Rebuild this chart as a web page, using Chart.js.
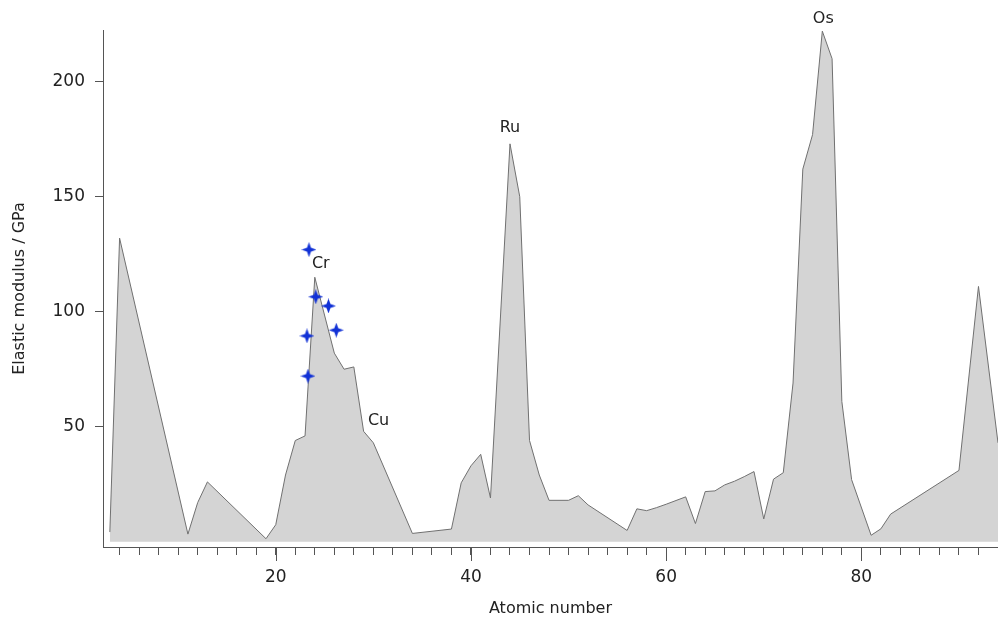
<!DOCTYPE html>
<html>
<head>
<meta charset="utf-8">
<script src="https://cdn.jsdelivr.net/npm/chart.js@4.4.1/dist/chart.umd.min.js"></script>
<style>
  body { margin: 0; background: #ffffff; }
  #chart { display: block; }
</style>
</head>
<body>
<canvas id="chart" width="998" height="621"></canvas>
<script>
// Elastic (shear) modulus vs atomic number

const atomicNumbers = [3, 4, 11, 12, 13, 19, 20, 21, 22, 23, 24, 26, 27, 28, 29, 30, 34, 38, 39, 40,
    41, 42, 44, 45, 46, 47, 48, 50, 51, 52, 56, 57, 58, 59, 60, 62, 63, 64, 65, 66,
    67, 68, 69, 70, 71, 72, 73, 74, 75, 76, 77, 78, 79, 81, 82, 83, 90, 92, 94];
const modulus = [4.2, 132, 3.3, 17, 26, 1.3, 7.4, 29, 44, 46, 115, 82, 75, 76, 48, 43, 3.6, 5.5, 25.6, 33,
    38, 19, 173, 150, 44, 29, 18, 18, 20, 16, 4.9, 14.3, 13.5, 14.8, 16.3, 19.5, 7.9, 21.8, 22.1, 24.7,
    26.3, 28.3, 30.5, 9.9, 27.2, 30, 69, 162, 177, 222, 210, 61, 27, 2.8, 5.6, 12, 31, 111, 43];

// extra blue markers near Cr
const markerZ = [23.4, 24.1, 25.4, 23.2, 26.2, 23.3];
const markerValue = [127, 106.5, 102.5, 89.5, 92, 72];

// element labels, anchored at a data point
const labelNames = ['Cr', 'Cu', 'Ru', 'Os'];
const labelZ = [24, 29, 44, 76];

const xTickValues = [];
for (let z = 4; z <= 94; z += 2) xTickValues.push(z);
const yTickValues = [50, 100, 150, 200];

const FONT = '"DejaVu Sans", sans-serif';
const AXIS_COLOR = '#555555';

function makeStar() {
    const c = document.createElement('canvas');
    c.width = 15; c.height = 15;
    const ctx = c.getContext('2d');
    ctx.fillStyle = '#1232d6';
    ctx.beginPath();
    for (let i = 0; i < 8; i++) {
        const r = i % 2 === 0 ? 7.5 : 2.8;
        const a = -Math.PI / 2 + i * Math.PI / 4;
        const px = 7.5 + r * Math.cos(a), py = 7.5 + r * Math.sin(a);
        if (i === 0) ctx.moveTo(px, py); else ctx.lineTo(px, py);
    }
    ctx.closePath();
    ctx.fill();
    return c;
}

const labelOffsets = { Cr: [6, -13], Cu: [15, -10], Ru: [0, -16], Os: [1, -12] };

const extrasPlugin = {
    id: 'extras',
    afterDraw(chart) {
        const ctx = chart.ctx;
        const xs = chart.scales.x, ys = chart.scales.y;
        // longer major ticks
        ctx.save();
        ctx.strokeStyle = AXIS_COLOR;
        ctx.lineWidth = 1;
        [20, 40, 60, 80].forEach(v => {
            const px = Math.round(xs.getPixelForValue(v)) + 0.5;
            ctx.beginPath();
            ctx.moveTo(px, ys.bottom);
            ctx.lineTo(px, ys.bottom + 14);
            ctx.stroke();
        });
        // element labels
        ctx.fillStyle = '#222222';
        ctx.font = '16px ' + FONT;
        ctx.textAlign = 'center';
        ctx.textBaseline = 'middle';
        labelNames.forEach((name, i) => {
            const idx = atomicNumbers.indexOf(labelZ[i]);
            const px = xs.getPixelForValue(labelZ[i]);
            const py = ys.getPixelForValue(modulus[idx]);
            const off = labelOffsets[name];
            ctx.fillText(name, px + off[0], py + off[1]);
        });
        ctx.restore();
    }
};

const ctx = document.getElementById('chart').getContext('2d');
new Chart(ctx, {
    type: 'scatter',
    data: {
        datasets: [
            {
                data: atomicNumbers.map((z, i) => ({ x: z, y: modulus[i] })),
                showLine: true,
                fill: 'origin',
                backgroundColor: '#d4d4d4',
                borderColor: '#707070',
                borderWidth: 1,
                pointRadius: 0,
                tension: 0,
                order: 2
            },
            {
                data: markerZ.map((z, i) => ({ x: z, y: markerValue[i] })),
                pointStyle: makeStar(),
                pointRadius: 7,
                order: 1
            }
        ]
    },
    options: {
        responsive: false,
        animation: false,
        layout: { autoPadding: false, padding: { top: 30, right: 0, left: 0, bottom: 0 } },
        plugins: { legend: { display: false }, tooltip: { enabled: false } },
        scales: {
            x: {
                type: 'linear',
                min: 2.3,
                max: 94,
                afterBuildTicks: s => { s.ticks = xTickValues.map(v => ({ value: v })); },
                afterFit: s => { s.height = 74; s.paddingLeft = 0; s.paddingRight = 0; },
                ticks: {
                    autoSkip: false,
                    maxRotation: 0,
                    padding: 12,
                    color: '#222222',
                    font: { family: FONT, size: 17 },
                    callback: v => (v % 20 === 0 ? v : '')
                },
                grid: { drawOnChartArea: false, tickLength: 8, color: AXIS_COLOR },
                border: { color: AXIS_COLOR, width: 1 },
                title: {
                    display: true,
                    text: 'Atomic number',
                    color: '#222222',
                    font: { family: FONT, size: 16 },
                    padding: { top: 2, bottom: 3 }
                }
            },
            y: {
                min: -2.3,
                max: 222.5,
                afterBuildTicks: s => { s.ticks = yTickValues.map(v => ({ value: v })); },
                afterFit: s => { s.width = 103; s.paddingTop = 0; s.paddingBottom = 0; },
                ticks: {
                    padding: 10,
                    color: '#222222',
                    font: { family: FONT, size: 17 }
                },
                grid: { drawOnChartArea: false, tickLength: 8, color: AXIS_COLOR },
                border: { color: AXIS_COLOR, width: 1 },
                title: {
                    display: true,
                    text: 'Elastic modulus / GPa',
                    color: '#222222',
                    font: { family: FONT, size: 16 },
                    padding: { top: 10, bottom: 0 }
                }
            }
        }
    },
    plugins: [extrasPlugin]
});
</script>
</body>
</html>
